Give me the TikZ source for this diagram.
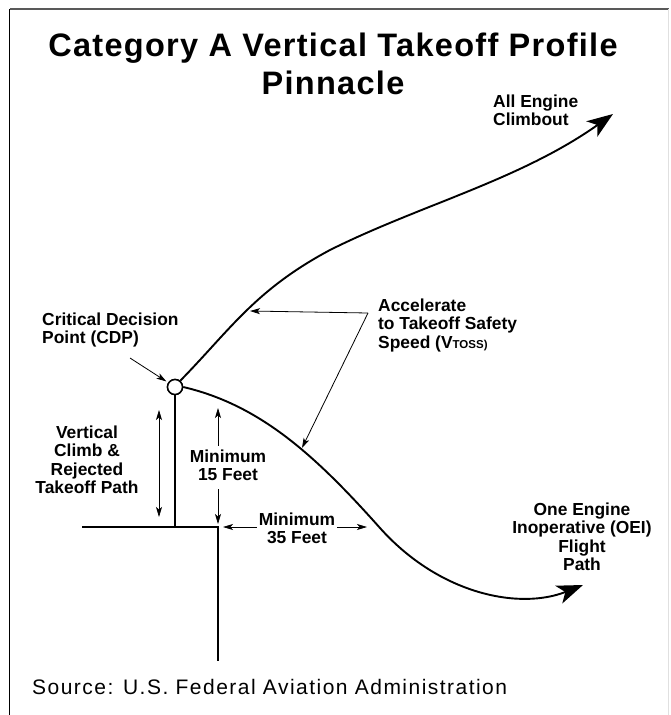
\documentclass[tikz,border=0pt]{standalone}
\usepackage{fontspec}
\setmainfont{Liberation Sans}
\newfontfamily\titlefont{Liberation Sans}[LetterSpace=4]
\newfontfamily\srcfont{Liberation Sans}[LetterSpace=7]
\usetikzlibrary{arrows.meta}
\newcommand{\stk}[2]{\begin{tabular}[t]{@{}#1@{}}#2\end{tabular}}
\begin{document}
\begin{tikzpicture}[x=1pt,y=-1pt,
  lbl/.style={font=\fontsize{17.4}{18.6}\selectfont\bfseries, inner sep=0pt},
  curve/.style={line width=1.9pt, -{Stealth[length=26pt,width=19pt,inset=7pt]}},
  pointer/.style={line width=0.8pt, -{Stealth[length=10pt,width=6pt,inset=2.5pt]}},
  dbl/.style={line width=0.8pt, {Stealth[length=10pt,width=6pt,inset=2.5pt]}-{Stealth[length=10pt,width=6pt,inset=2.5pt]}},
  heavy/.style={line width=1.8pt}]
\useasboundingbox (0,0) rectangle (670,715);
\fill[white] (0,0) rectangle (670,715);
% frame
\draw[line width=1.3pt, black!65] (9.5,9) -- (668.5,9);
\draw[line width=1.3pt] (9.5,9) -- (9.5,715);
\draw[line width=1pt, black!12] (668.5,9) -- (668.5,715);

% title and source
\node[font=\titlefont\fontsize{32.5}{38}\selectfont\bfseries, anchor=base, inner sep=0pt] (title) at (333,56)
  {\stk{c}{Category A Vertical Takeoff Profile\\Pinnacle}};
\node[font=\srcfont\fontsize{21}{24}\selectfont, anchor=base west, inner sep=0pt] (source) at (32,694)
  {Source: U.S. Federal Aviation Administration};

% labels
\node[lbl, anchor=base west] (alltext) at (493,107) {\stk{l}{All Engine\\Climbout}};
\node[lbl, anchor=base west] (cdptext) at (42,325) {\stk{l}{Critical Decision\\Point (CDP)}};
\node[lbl, anchor=base west] (acctext) at (378,311) {\stk{l}{Accelerate\\to Takeoff Safety\\Speed (V{\fontsize{11.5}{12}\selectfont TOSS)}}};
\node[lbl, anchor=base] (verttext) at (87,438) {\stk{c}{Vertical\\Climb \&\\Rejected\\Takeoff Path}};
\node[lbl, anchor=base, inner ysep=3pt] (min15) at (228,462) {\stk{c}{Minimum\\15 Feet}};
\node[lbl, anchor=base, inner xsep=2pt] (min35) at (297,525) {\stk{c}{Minimum\\35 Feet}};
\node[lbl, anchor=base] (oeitext) at (582,515) {\stk{c}{One Engine\\Inoperative (OEI)\\Flight\\Path}};

% CDP and ground
\node[circle, draw, line width=1.5pt, fill=white, minimum size=15pt, inner sep=0pt] (cdp) at (175,387) {};
\coordinate (g1) at (82,527);
\coordinate (g2) at (218,527);
\coordinate (g3) at (218,661);
\draw[heavy] (g1) -- (g2) -- (g3);
\draw[heavy] (cdp.south) -- (cdp.south |- g1);

% flight paths
\coordinate (allTip) at (613,114);
\coordinate (lowTip) at (583,585);
\draw[curve] (cdp.50) .. controls (230,330) and (255,290) .. (330,250)
  .. controls (420,205) and (520,180) .. (allTip);
\draw[curve] (cdp.east) .. controls (260,405) and (315,455) .. (380,528)
  .. controls (440,595) and (520,610) .. (lowTip);
\node[circle, draw, line width=1.5pt, fill=white, minimum size=15pt, inner sep=0pt] at (cdp) {};

% pointers
\coordinate (cdpFrom) at (130,358);
\draw[pointer, shorten >=2pt] (cdpFrom) -- (cdp);
\coordinate (accV) at (368,313);
\coordinate (accUp) at (250,311);
\coordinate (accLow) at (302,448);
\draw[pointer] (accV) -- (accUp);
\draw[pointer] (accV) -- (accLow);

% dimension arrows
\coordinate (vt) at (159,410);
\coordinate (vb) at (159,517);
\draw[dbl] (vt) -- (vb);
\coordinate (m15t) at (218,408);
\coordinate (m15b) at (218,524);
\draw[pointer] (m15t |- min15.north) -- (m15t);
\draw[pointer] (m15b |- min15.south) -- (m15b);
\coordinate (m35l) at (223,527);
\coordinate (m35r) at (367,527);
\draw[pointer] (min35.west |- m35l) -- (m35l);
\draw[pointer] (min35.east |- m35r) -- (m35r);
\end{tikzpicture}
\end{document}
